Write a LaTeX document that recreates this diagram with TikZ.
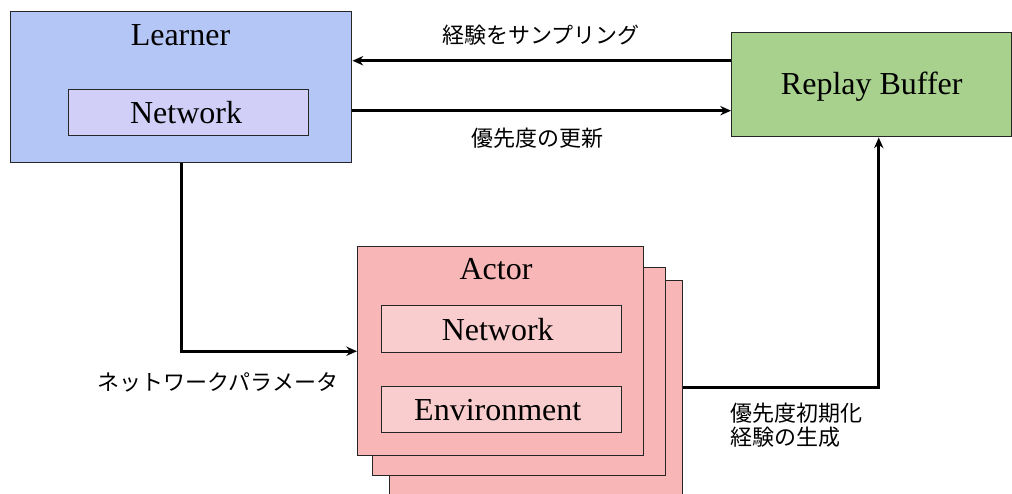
\documentclass[tikz,border=0pt]{standalone}
\usepackage{fontspec}
\setmainfont{Liberation Serif}
\newfontfamily\jpfont{Noto Sans CJK JP}
\usetikzlibrary{arrows.meta}

\definecolor{learnerfill}{HTML}{B4C6F6}
\definecolor{learnerinner}{HTML}{D1CFF7}
\definecolor{bufferfill}{HTML}{A9D18E}
\definecolor{actorfill}{HTML}{F8B6B6}
\definecolor{actorinner}{HTML}{F9CDCD}
\definecolor{boxline}{HTML}{262626}

\begin{document}
\begin{tikzpicture}[
  x=0.75pt, y=-0.75pt,
  box/.style={draw=boxline, line width=1.1pt, inner sep=0pt, anchor=north west},
  latin/.style={font=\fontsize{24}{28}\selectfont, text=black},
  jplabel/.style={font=\jpfont\fontsize{16.5}{18}\selectfont, text=black, inner sep=0pt},
  conn/.style={draw=black, line width=2.3pt, -{Stealth[length=8pt,width=7pt]}},
]
\useasboundingbox (0,0) rectangle (1012,493);

% Learner with its network
\node[box, fill=learnerfill, minimum width=255.75pt, minimum height=113.25pt] (learner) at (10,11) {};
\node[latin] (learnertitle) at (180.5,35) {Learner};
\node[box, fill=learnerinner, minimum width=180pt, minimum height=34.5pt] (lnet) at (68,89) {};
\node[latin] (lnettext) at ([xshift=-2pt]lnet.center) {Network};

% Replay buffer
\node[box, fill=bufferfill, minimum width=210pt, minimum height=78pt] (rb) at (731,32) {};
\node[latin] (rbtext) at ([yshift=-1.5pt]rb.center) {Replay Buffer};

% Stack of actors (back to front)
\node[box, fill=actorfill, minimum width=219.75pt, minimum height=172.5pt] (actor3) at (389,280) {};
\node[box, fill=actorfill, minimum width=219.75pt, minimum height=156pt] (actor2) at (372,267) {};
\node[box, fill=actorfill, minimum width=214.5pt, minimum height=156.75pt] (actor1) at (357,246) {};
\node[latin] (actortitle) at (496,269) {Actor};
\node[box, fill=actorinner, minimum width=180pt, minimum height=35.25pt] (anet) at (381,305) {};
\node[latin] (anettext) at ([xshift=-3pt]anet.center) {Network};
\node[box, fill=actorinner, minimum width=180pt, minimum height=34.5pt] (env) at (381,386) {};
\node[latin] (envtext) at ([xshift=-3pt]env.center) {Environment};

% Connectors
\draw[conn] ([yshift=18pt]rb.west) coordinate (sampfrom) -- (sampfrom -| learner.east);
\draw[conn] ([yshift=-17.6pt]learner.east) coordinate (prifrom) -- (prifrom -| rb.west);
\draw[conn] (learner.south) |- (actor1.west);
\draw[conn] ([yshift=6pt]actor3.east) -| ([xshift=5.25pt]rb.south);

% Labels
\node[jplabel] (lsamp) at (541,35) {経験をサンプリング};
\node[jplabel] (lprio) at (537,138) {優先度の更新};
\node[jplabel] (lparam) at (218,382) {ネットワークパラメータ};
\node[jplabel, align=left, anchor=west] (lgen) at (730,425) {優先度初期化\\経験の生成};
\end{tikzpicture}
\end{document}
